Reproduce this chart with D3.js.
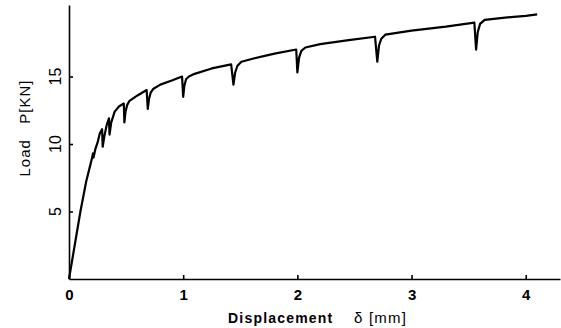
<!DOCTYPE html>
<head>
  <title>Load vs Displacement</title>
  <style>
    body { margin: 0; background: #fff; }
    .axis path, .axis line { stroke: #000; stroke-width: 1.6px; }
    .axis text { font-family: "Liberation Sans", Arial, sans-serif; fill: #000; }
    text { fill: #000; }
  </style>
</head>
<body>
  <script src="https://cdn.jsdelivr.net/npm/d3@7"></script>
  <script>
    // curve: displacement (mm) and load (kN)
    var disp = [0, 0.05, 0.10, 0.15, 0.20, 0.21, 0.215, 0.23, 0.25, 0.27, 0.29, 0.295, 0.31, 0.33, 0.35,
                0.355, 0.37, 0.40, 0.44, 0.48, 0.485, 0.495, 0.51, 0.53, 0.60, 0.68, 0.69, 0.70, 0.715,
                0.74, 0.80, 0.90, 0.99, 1.00, 1.01, 1.025, 1.05, 1.10, 1.25, 1.42, 1.44, 1.455, 1.475,
                1.51, 1.60, 1.80, 1.99, 2.00, 2.015, 2.035, 2.07, 2.20, 2.45, 2.68, 2.70, 2.715, 2.735,
                2.77, 3.00, 3.30, 3.55, 3.565, 3.58, 3.60, 3.64, 3.80, 4.00, 4.10];
    var load = [0, 2.5, 5.0, 7.2, 8.9, 9.3, 9.0, 9.6, 10.1, 10.8, 11.1, 9.8, 10.6, 11.4, 11.9,
                10.7, 11.6, 12.4, 12.8, 13.0, 11.6, 12.4, 12.9, 13.2, 13.6, 14.0, 12.6, 13.3, 13.8,
                14.1, 14.4, 14.7, 15.0, 13.5, 14.3, 14.8, 15.0, 15.2, 15.6, 15.9, 14.4, 15.3, 15.8,
                16.1, 16.3, 16.7, 17.0, 15.3, 16.4, 16.9, 17.15, 17.4, 17.7, 17.95, 16.1, 17.3, 17.8,
                18.1, 18.4, 18.7, 19.0, 17.0, 18.3, 18.9, 19.2, 19.35, 19.5, 19.6];
    var xTicks = [0, 1, 2, 3, 4];
    var yTicks = [5, 10, 15];

    var w = 561, h = 328;

    var x = d3.scaleLinear().domain([0, 4.3]).range([69, 560]);
    var y = d3.scaleLinear().domain([0, 20.3]).range([279, 5]);

    var svg = d3.select("body").append("svg")
      .attr("width", w)
      .attr("height", h);

    // axes, ticks pointing inward
    var xAxis = d3.axisBottom(x).tickValues(xTicks).tickFormat(d3.format("d"))
      .tickSize(-4).tickPadding(10).tickSizeOuter(0);
    svg.append("g")
      .attr("class", "axis")
      .attr("transform", "translate(0," + y(0) + ")")
      .call(xAxis)
      .selectAll("text")
      .style("font-size", "15px")
      .style("font-weight", "bold");

    var yAxis = d3.axisLeft(y).tickValues(yTicks).tickFormat("").tickSize(-4).tickSizeOuter(0);
    svg.append("g")
      .attr("class", "axis")
      .attr("transform", "translate(" + x(0) + ",0)")
      .call(yAxis);

    // y tick labels, turned like in the original
    svg.selectAll(".ylab")
      .data(yTicks)
      .enter()
      .append("text")
      .attr("class", "ylab")
      .attr("transform", function(d) { return "translate(61," + y(d) + ") rotate(-90)"; })
      .style("text-anchor", "middle")
      .style("font-family", "Liberation Sans, Arial, sans-serif")
      .style("font-size", "16px")
      .text(function(d) { return d; });

    // the load curve
    var pts = disp.map(function(d, i) { return [d, load[i]]; });
    svg.append("path")
      .datum(pts)
      .attr("fill", "none")
      .attr("stroke", "#000")
      .attr("stroke-width", 2.2)
      .attr("stroke-linejoin", "round")
      .attr("d", d3.line()
        .x(function(d) { return x(d[0]); })
        .y(function(d) { return y(d[1]); }));

    // axis titles
    svg.append("text")
      .attr("x", 228).attr("y", 323)
      .style("font-family", "Liberation Sans, Arial, sans-serif")
      .style("font-size", "14px")
      .style("font-weight", "bold")
      .style("letter-spacing", "1.2px")
      .text("Displacement");
    svg.append("text")
      .attr("x", 354).attr("y", 323)
      .style("font-family", "Liberation Sans, Arial, sans-serif")
      .style("font-size", "15px")
      .style("letter-spacing", "1.2px")
      .text("\u03b4 [mm]");

    svg.append("text")
      .attr("transform", "translate(30,128) rotate(-90)")
      .style("text-anchor", "middle")
      .style("font-family", "Liberation Sans, Arial, sans-serif")
      .style("font-size", "15px")
      .style("letter-spacing", "1px")
      .attr("xml:space", "preserve")
      .text("Load   P[KN]");
  </script>
</body>
